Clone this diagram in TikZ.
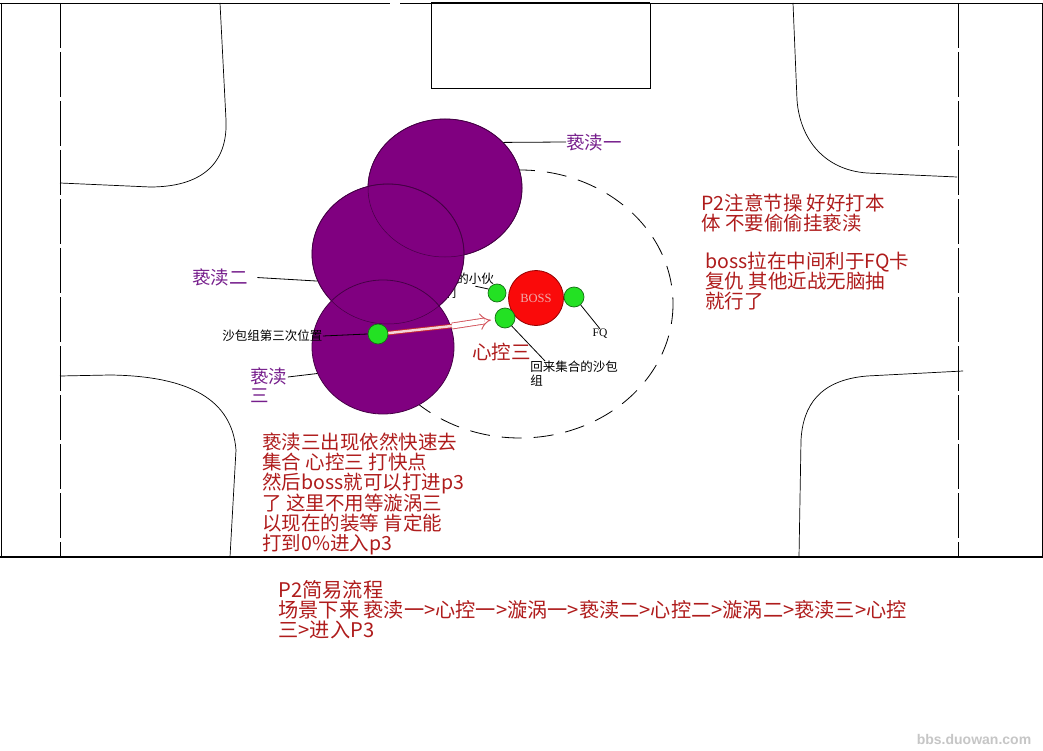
\documentclass[tikz,border=0pt]{standalone}
\usepackage{fontspec}
\setmainfont{Noto Sans CJK SC}
\newfontfamily\serifroman{Liberation Serif}
\newfontfamily\wmfont{Liberation Sans}
\usetikzlibrary{shapes.geometric,arrows.meta}
\definecolor{notered}{RGB}{175,28,28}
\definecolor{labelpurple}{RGB}{118,30,140}
\definecolor{blobpurple}{RGB}{128,0,128}
\definecolor{blobedge}{RGB}{70,0,70}
\definecolor{mategreen}{RGB}{35,225,35}
\definecolor{mateedge}{RGB}{20,110,20}
\definecolor{bossred}{RGB}{250,10,10}
\definecolor{bossedge}{RGB}{150,0,0}
\definecolor{bosstext}{RGB}{240,170,170}
\definecolor{pushred}{RGB}{200,40,50}
\begin{document}
\begin{tikzpicture}[x=1pt,y=-1pt,line width=0.8pt,
    blob/.style={ellipse,fill=blobpurple,draw=blobedge,inner sep=0pt},
    blobrim/.style={ellipse,draw=blobedge,inner sep=0pt,line width=0.5pt},
    mate/.style={circle,fill=mategreen,draw=mateedge,inner sep=0pt,line width=0.7pt},
    note/.style={text=notered,font=\fontsize{19.5}{20}\selectfont,align=left,inner sep=0pt},
    xdlabel/.style={text=labelpurple,font=\fontsize{18.5}{19}\selectfont,align=left,inner sep=0pt},
    tag/.style={font=\fontsize{12.5}{14}\selectfont,align=left,inner sep=0pt},
    road/.style={line width=0.7pt},
    lane/.style={line width=0.8pt,dash pattern=on 45pt off 4pt},
    aura/.style={line width=0.8pt,dash pattern=on 20pt off 12pt}]

    \fill[white] (0,0) rectangle (1043,751);
    \useasboundingbox (0,0) rectangle (1043,751);

    \draw (0,3) -- (390,3);
    \draw (400,3) -- (1043,3);
    \draw (1,3) -- (1,557);
    \draw (1042,3) -- (1042,557);
    \draw[line width=1.2pt] (0,557) -- (1043,557);
    \draw (431,3) rectangle (650,88);
    \draw[line width=2pt] (431,3) -- (650,3);

    \draw[lane] (60,3) -- (60,557);
    \draw[lane] (958,3) -- (958,557);

    \draw[road] (220,3) -- (226,120) .. controls (228,165) and (200,187) .. (150,187) -- (60,183);
    \draw[road] (793,3) -- (797,100) .. controls (800,140) and (825,170) .. (867,173) -- (957,177);
    \draw[road] (60,376) -- (110,375) .. controls (190,376) and (232,400) .. (236,450) -- (230,557);
    \draw[road] (963,371) -- (867,376) .. controls (820,380) and (803,405) .. (801,440) -- (799,557);

    \draw[aura] (520,304) ellipse [x radius=153, y radius=134];

    \node[tag, anchor=north west] (lblmate) at (431,273) {其他的小伙\\伴们};

    \node[blob, minimum width=154pt, minimum height=138pt] (xdone) at (445,188) {};
    \node[blob, minimum width=152pt, minimum height=140pt] (xdtwo) at (388,254) {};
    \node[blob, minimum width=142pt, minimum height=134pt] (xdthree) at (383,347) {};
    \node[blobrim, minimum width=154pt, minimum height=138pt] at (xdone) {};
    \node[blobrim, minimum width=152pt, minimum height=140pt] at (xdtwo) {};

    \node[xdlabel, anchor=west] (lblxdone) at (566,142) {亵渎一};
    \node[xdlabel, anchor=west] (lblxdtwo) at (192,277) {亵渎二};
    \node[xdlabel, anchor=north west] (lblxdthree) at (250,367) {亵渎\\三};
    \node[tag, anchor=west] (lblsand) at (222,336) {沙包组第三次位置};
    \node[tag, anchor=north west] (lblback) at (530,361) {回来集合的沙包\\组};
    \node[font=\serifroman\fontsize{11.5}{12}\selectfont, inner sep=0pt] (lblfq) at (600,334) {FQ};

    \draw (xdone.38) -- (lblxdone.west);
    \draw[shorten <=9pt] (lblxdtwo.east) -- (xdtwo.201);
    \draw ([yshift=-10pt]lblxdthree.north east) -- (xdthree.202);

    \node[mate, minimum size=20pt] (dotsand) at (378,334) {};
    \node[mate, minimum size=18pt] (dotmate) at (497,293) {};
    \node[circle, fill=bossred, draw=bossedge, minimum size=55pt, inner sep=0pt,
          font=\serifroman\fontsize{12.5}{13}\selectfont, text=bosstext] (boss) at (536,298) {BOSS};
    \node[mate, minimum size=20pt] (dotfq) at (574,297) {};
    \node[mate, minimum size=20pt] (dotback) at (505,318) {};

    \draw (lblsand.east) -- (dotsand.west);
    \draw ([xshift=-19pt]lblmate.east) -- (dotmate.155);
    \draw (dotfq.-50) -- (lblfq.north);
    \draw (dotback.-50) -- ([xshift=15pt]lblback.north west);

    \coordinate (pushmid) at (452,326);
    \coordinate (pushend) at (491,320);
    \draw[draw=pushred, double=pushred!20, double distance=2.5pt, line width=0.9pt] (dotsand.5) -- (pushmid);
    \draw[draw=pushred!80, double=white, double distance=5pt, line width=0.9pt, -{Implies}] (pushmid) -- (pushend);

    \node[note, anchor=west] (lblmindthree) at (472,352) {心控三};
    \node[note, anchor=north west] (notefocus) at (701,194) {P2注意节操 好好打本\\体 不要偷偷挂亵渎};
    \node[note, anchor=north west] (noteboss) at (705,252) {boss拉在中间利于FQ卡\\复仇 其他近战无脑抽\\就行了};
    \node[note, anchor=north west] (notethree) at (262,432) {亵渎三出现依然快速去\\集合 心控三 打快点\\然后boss就可以打进p3\\了 这里不用等漩涡三\\以现在的装等 肯定能\\打到0\%进入p3};
    \node[note, anchor=north west, font=\fontsize{20.2}{20}\selectfont] (noteflow) at (278,580) {P2简易流程\\场景下来 亵渎一>心控一>漩涡一>亵渎二>心控二>漩涡二>亵渎三>心控\\三>进入P3};

    \node[font=\wmfont\bfseries\fontsize{14}{15}\selectfont, text=gray!45] (watermark) at (974,739) {bbs.duowan.com};
\end{tikzpicture}
\end{document}
